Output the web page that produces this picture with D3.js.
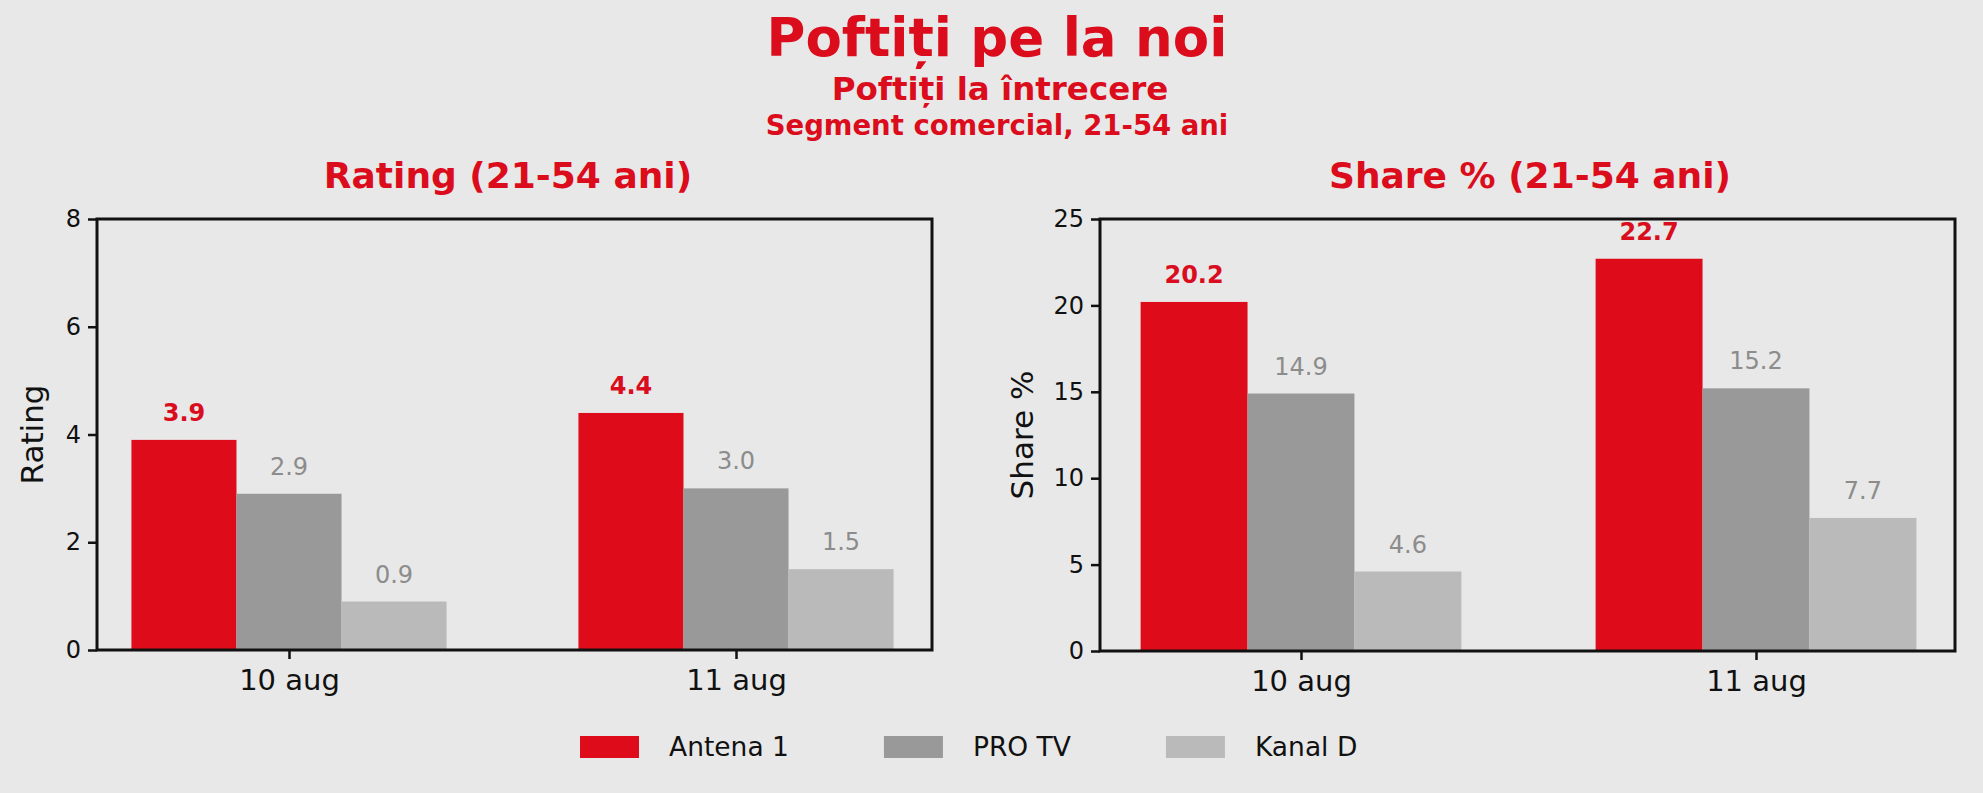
<!DOCTYPE html>
<html>
<head>
<meta charset="utf-8">
<script src="https://cdn.jsdelivr.net/npm/d3@7"></script>
<style>
    html, body { margin: 0; padding: 0; background: #e8e8e8; }
    svg { display: block; }
    .title { fill: #db0c1b; font-weight: bold; text-anchor: middle; }
</style>
</head>
<body>
<div id="container"><svg></svg></div>
<script>
let width = 1983;
let height = 793;
let fontFamily = 'DejaVu Sans';

// data
let dates = ['10 aug', '11 aug'];
let channels = ['Antena 1', 'PRO TV', 'Kanal D'];
let colors = ['#de0c1a', '#999999', '#bababa'];

let ratingAntena = [3.9, 4.4];
let ratingProTv = [2.9, 3.0];
let ratingKanalD = [0.9, 1.5];
let ratingTicks = [0, 2, 4, 6, 8];

let shareAntena = [20.2, 22.7];
let shareProTv = [14.9, 15.2];
let shareKanalD = [4.6, 7.7];
let shareTicks = [0, 5, 10, 15, 20, 25];

let barWidth = 0.235;

let svg = d3.select('#container')
    .select('svg')
    .attr('width', width)
    .attr('height', height)
    .style('font-family', fontFamily);

function draw_panel(box, series, ticks, title, yLabel, yLabelX) {
    // category index -> pixel, first and last group centres
    let x = d3.scaleLinear()
        .domain([0, dates.length - 1])
        .range([box.c0, box.c1]);
    let y = d3.scaleLinear()
        .domain([0, d3.max(ticks)])
        .range([box.bottom, box.top]);

    let g = svg.append('g');

    // bars
    series.forEach((values, s) => {
        let offset = (s - 1) * barWidth;
        g.append('g')
            .selectAll('rect')
            .data(values)
            .enter().append('rect')
            .attr('x', (d, i) => x(i + offset - barWidth / 2))
            .attr('width', x(barWidth) - x(0))
            .attr('y', d => y(d))
            .attr('height', d => y(0) - y(d))
            .attr('fill', colors[s]);

        g.append('g')
            .selectAll('text')
            .data(values)
            .enter().append('text')
            .attr('x', (d, i) => x(i + offset))
            .attr('y', d => y(d) - 19)
            .attr('text-anchor', 'middle')
            .attr('font-size', 24)
            .attr('font-weight', s === 0 ? 'bold' : 'normal')
            .attr('fill', s === 0 ? '#d90d1d' : '#8c8c8c')
            .text(d => d.toFixed(1));
    });

    // y axis
    let axis_y = d3.axisLeft(y)
        .tickValues(ticks)
        .tickSize(9)
        .tickPadding(7)
        .tickFormat(d => d);
    let gy = g.append('g')
        .attr('transform', `translate(${box.left}, 0)`)
        .call(axis_y)
        .attr('font-family', fontFamily)
        .attr('font-size', 24);
    gy.select('.domain').remove();
    gy.selectAll('line').attr('stroke', '#111').attr('stroke-width', 2.5);
    gy.selectAll('text').attr('fill', '#111');

    // x axis
    let axis_x = d3.axisBottom(x)
        .tickValues(d3.range(dates.length))
        .tickSize(9)
        .tickPadding(10)
        .tickFormat(i => dates[i]);
    let gx = g.append('g')
        .attr('transform', `translate(0, ${box.bottom})`)
        .call(axis_x)
        .attr('font-family', fontFamily)
        .attr('font-size', 29);
    gx.select('.domain').remove();
    gx.selectAll('line').attr('stroke', '#111').attr('stroke-width', 2.5);
    gx.selectAll('text').attr('fill', '#111');

    // frame
    g.append('rect')
        .attr('x', box.left)
        .attr('y', box.top)
        .attr('width', box.right - box.left)
        .attr('height', box.bottom - box.top)
        .attr('fill', 'none')
        .attr('stroke', '#111')
        .attr('stroke-width', 3);

    // panel title
    g.append('text')
        .attr('class', 'title')
        .attr('x', box.titleX)
        .attr('y', 188)
        .attr('font-size', 36)
        .text(title);

    // y label
    g.append('text')
        .attr('transform', `translate(${yLabelX}, ${(box.top + box.bottom) / 2}) rotate(-90)`)
        .attr('text-anchor', 'middle')
        .attr('font-size', 31)
        .attr('fill', '#111')
        .text(yLabel);
}

function draw_titles() {
    let cx = 997;
    svg.append('text').attr('class', 'title')
        .attr('x', cx).attr('y', 56)
        .attr('font-size', 53)
        .text('Poftiți pe la noi');
    svg.append('text').attr('class', 'title')
        .attr('x', cx + 3).attr('y', 100)
        .attr('font-size', 32.5)
        .text('Poftiți la întrecere');
    svg.append('text').attr('class', 'title')
        .attr('x', cx).attr('y', 135)
        .attr('font-size', 27.5)
        .text('Segment comercial, 21-54 ani');
}

function draw_legend() {
    let lx = 580;
    let ly = 736;
    channels.forEach((name, i) => {
        let item = svg.append('g').attr('transform', `translate(${lx}, ${ly})`);
        item.append('rect')
            .attr('width', 59)
            .attr('height', 22)
            .attr('fill', colors[i]);
        let t = item.append('text')
            .attr('x', 89)
            .attr('y', 20)
            .attr('font-size', 26.5)
            .attr('fill', '#111')
            .text(name);
        lx += 89 + t.node().getComputedTextLength() + 95;
    });
}

function main() {
    draw_titles();
    draw_panel({left: 97, right: 932, top: 219, bottom: 650, c0: 289, c1: 736, titleX: 508},
        [ratingAntena, ratingProTv, ratingKanalD], ratingTicks,
        'Rating (21-54 ani)', 'Rating', 43);
    draw_panel({left: 1100, right: 1955, top: 219, bottom: 651, c0: 1301, c1: 1756, titleX: 1530},
        [shareAntena, shareProTv, shareKanalD], shareTicks,
        'Share % (21-54 ani)', 'Share %', 1033);
    draw_legend();
}

main();
</script>
</body>
</html>
